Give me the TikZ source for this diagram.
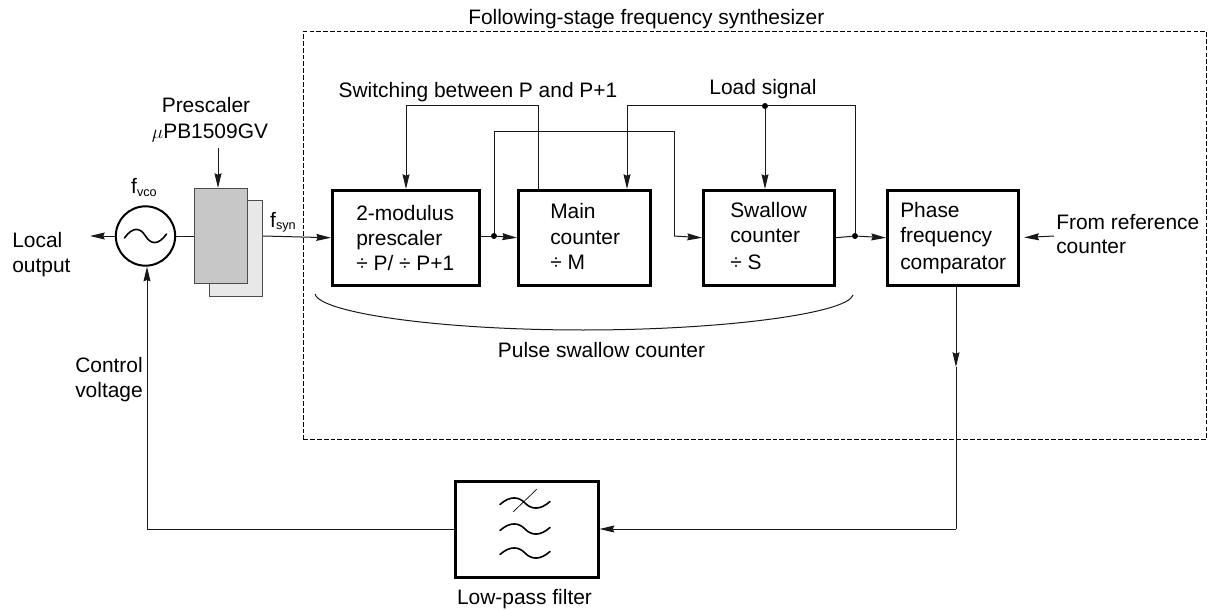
\documentclass[tikz,border=0pt]{standalone}
\usepackage{fontspec}
\setmainfont{Liberation Sans}
\usetikzlibrary{arrows.meta,calc}
\tikzset{
  x=0.75pt,y=-0.75pt,
  lbl/.style={inner sep=0pt,anchor=base,font=\fontsize{15.7}{18}\selectfont,text=black},
  lblL/.style={lbl,anchor=base west},
  cblock/.style={draw=black,line width=1.9pt,fill=white,inner sep=0pt,minimum width=#1*0.75pt,minimum height=71.25pt},
  wire/.style={draw=black!90,line width=0.75pt},
  arr/.style={wire,-{Stealth[length=11pt,width=5.2pt,inset=1pt]}},
  jdot/.style={circle,fill=black,inner sep=0pt,minimum size=4.5pt},
  wave/.style={draw=black,line width=1.2pt,line cap=round},
}
\newcommand{\tildewave}[4]{% cx cy halfwidth amp
  \draw[wave] (#1-#3,#2+#4*0.3) .. controls (#1-#3*0.6,#2-#4*1.5) and (#1-#3*0.25,#2-#4*1.3) .. (#1,#2)
     .. controls (#1+#3*0.25,#2+#4*1.3) and (#1+#3*0.6,#2+#4*1.5) .. (#1+#3,#2-#4*0.3);}
\begin{document}
\begin{tikzpicture}
\useasboundingbox (0,0) rectangle (1208,610);
% dashed box
\node[draw=black,dash pattern=on 3.5pt off 1.6pt,line width=0.7pt,inner sep=0pt,minimum width=677.25pt,minimum height=306pt,anchor=north west] (synth) at (303,31) {};
\node[lblL] (ftitle) at (468,25) {Following-stage frequency synthesizer};
% prescaler sheets
\node[draw=black!70,fill=black!9,line width=0.8pt,inner sep=0pt,minimum width=39.75pt,minimum height=72pt,anchor=north west] (back) at (209,200) {};
\node[draw=black!70,fill=black!22,line width=0.8pt,inner sep=0pt,minimum width=39.75pt,minimum height=71.5pt,anchor=north west] (front) at (194,188) {};
% vco
\node[circle,draw=black,line width=1.5pt,fill=white,minimum size=44.5pt,inner sep=0pt] (vco) at (145.5,236) {};
\tildewave{145.5}{236}{21}{6.5}
% blocks
\node[cblock=147,anchor=north west] (pre) at (331,189) {};
\node[cblock=132,anchor=north west] (main) at (517,189) {};
\node[cblock=131,anchor=north west] (swal) at (702,189) {};
\node[cblock=131,anchor=north west] (pfc) at (886,189) {};
\node[lblL] (t1) at (356,220) {2-modulus};
\node[lblL] (t2) at (356,245) {prescaler};
\node[lblL] (t3) at (356,270) {÷ P/ ÷ P+1};
\node[lblL] (t4) at (550,219) {Main};
\node[lblL] (t5) at (550,244) {counter};
\node[lblL] (t6) at (550,269) {÷ M};
\node[lblL] (t7) at (730,218) {Swallow};
\node[lblL] (t8) at (730,243) {counter};
\node[lblL] (t9) at (730,269) {÷ S};
\node[lblL] (t10) at (900,218) {Phase};
\node[lblL] (t11) at (900,243) {frequency};
\node[lblL] (t12) at (900,269) {comparator};
% filter
\node[cblock=143,anchor=north west,minimum height=72pt] (lpf) at (454,480) {};
\tildewave{525}{503}{25}{5}
\tildewave{525}{529}{25}{5}
\tildewave{525}{553}{25}{5}
\coordinate (sa) at (513,512);
\coordinate (sb) at (537,489);
\draw[draw=black,line width=0.5pt] (sa) -- (sb);
% text
\node[lblL] (l1) at (12,247) {Local};
\node[lblL] (l2) at (12,272) {output};
\node[lbl] (p1) at (206,113) {Prescaler};
\node[lbl] (p2) at (210,138) {$\mu$PB1509GV};
\node[lbl] (fv) at (144,194) {f\raisebox{-0.2ex}{\fontsize{9.5}{11}\selectfont vco}};
\node[lbl] (fs) at (283,227) {f\raisebox{-0.2ex}{\fontsize{9.5}{11}\selectfont syn}};
\node[lbl] (sw) at (478,98) {Switching between P and P+1};
\node[lbl] (ls) at (763,94) {Load signal};
\node[lblL] (fr1) at (1056,229) {From reference};
\node[lblL] (fr2) at (1056,253) {counter};
\node[lbl] (ps) at (601.5,357) {Pulse swallow counter};
\node[lbl] (lp) at (524.5,604) {Low-pass filter};
\node[lblL] (c1) at (75,372) {Control};
\node[lblL] (c2) at (75,397) {voltage};
% junctions
\node[jdot] (d1) at (494,236) {};
\node[jdot] (d2) at (855,236) {};
\node[jdot] (d3) at (765,106) {};
% free ends
\coordinate (localend) at (90,236);
\coordinate (parr) at (218,148);
\coordinate (refstart) at (1054,236);
\coordinate (swtop) at (538,106);
\coordinate (swleft) at (406,106);
\coordinate (ltl) at (627,106);
\coordinate (ltr) at (855,106);
\coordinate (mta) at (494,132);
\coordinate (mtb) at (674,132);
\coordinate (mtc) at (674,236);
\coordinate (dn) at (956,367);
\coordinate (dnb) at (956,529);
\coordinate (ctl) at (147,529);
% wires
\draw[arr] (vco.west) -- (localend);
\draw[wire] (vco.east) -- (front.west |- vco);
\draw[arr] (parr) -- (front.north -| parr);
\draw[arr] (back.east |- vco) -- (pre.west);
\draw[wire] (pre.east |- d1) -- (d1);
\draw[arr] (d1) -- (main.west);
\draw[wire] (main.north -| swtop) -- (swtop) -- (swleft);
\draw[arr] (swleft) -- (pre.north -| swleft);
\draw[wire] (d1) -- (mta) -- (mtb) -- (mtc);
\draw[arr] (mtc) -- (swal.west);
\draw[wire] (d3) -- (ltl);
\draw[arr] (ltl) -- (main.north -| ltl);
\draw[arr] (d3) -- (swal.north -| d3);
\draw[wire] (d3) -- (ltr) -- (d2);
\draw[wire] (swal.east) -- (d2);
\draw[arr] (d2) -- (pfc.west);
\draw[arr,shorten >=3.5pt] (refstart) -- (pfc.east);
\draw[arr] (pfc.south -| dn) -- (dn);
\draw[wire] (dn) -- (dnb);
\draw[arr] (dnb) -- (lpf.east |- dnb);
\draw[wire] (lpf.west |- ctl) -- (ctl);
\draw[arr] (ctl) -- (vco.south -| ctl);
% brace
\coordinate (ba) at (315,294);
\coordinate (bb) at (853,295);
\coordinate (bc) at (583,330);
\draw[wire] (ba) .. controls (320,313) and (440,330) .. (bc) .. controls (726,330) and (848,313) .. (bb);
\end{tikzpicture}
\end{document}
